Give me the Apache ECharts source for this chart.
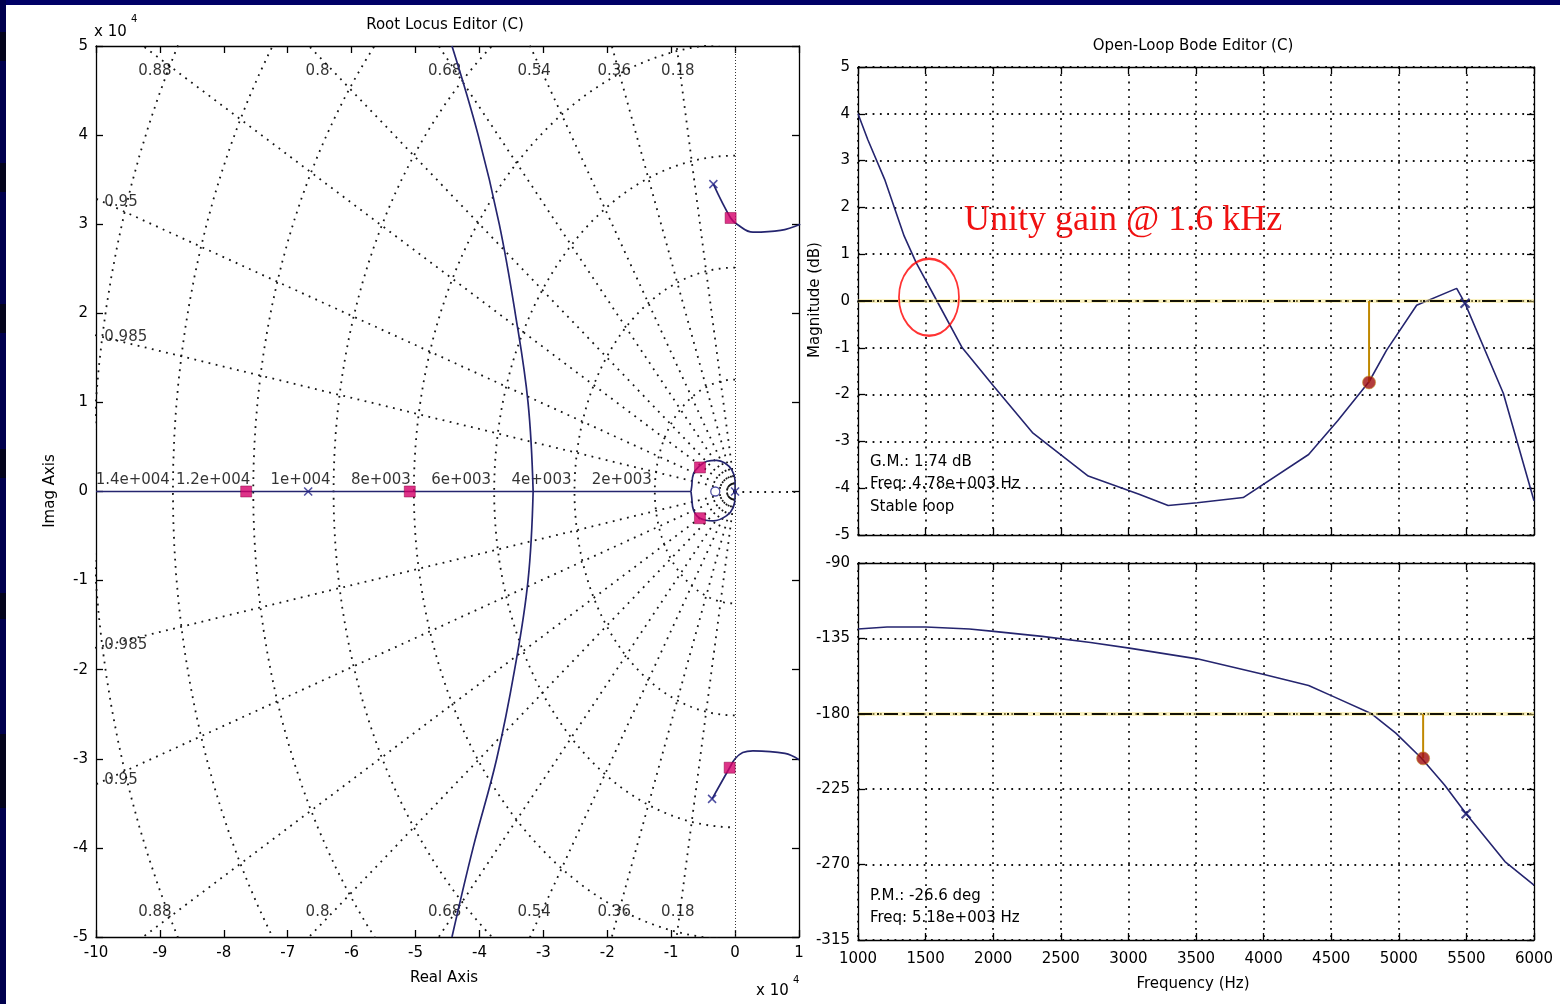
<!DOCTYPE html>
<html><head><meta charset="utf-8">
<script src="https://cdn.jsdelivr.net/npm/echarts@6/dist/echarts.min.js"></script>
<style>html,body{margin:0;padding:0;background:#fff}#c{width:1560px;height:1004px}</style>
</head><body><div id="c"></div><script>
// ---------- Root locus grid parameters (tick labels) ----------
const dampingValues = [0.18, 0.36, 0.54, 0.68, 0.8, 0.88, 0.95, 0.985];
const dampingLabels = ['0.18', '0.36', '0.54', '0.68', '0.8', '0.88', '0.95', '0.985'];
const freqHz = [2000, 4000, 6000, 8000, 10000, 12000, 14000, 16000];
const freqLabels = ['2e+003', '4e+003', '6e+003', '8e+003', '1e+004', '1.2e+004', '1.4e+004', ''];

// ---------- Root locus branches (x10^4) ----------
const locusRealAxis = [[-10, 0], [-0.69, 0]];
const locusMainUpper = [[-3.16, 0], [-3.24, 1], [-3.44, 2], [-3.69, 3], [-4.02, 4], [-4.43, 5]];
const locusMainLower = [[-3.16, 0], [-3.24, -1], [-3.45, -2], [-3.73, -3], [-4.1, -4], [-4.43, -5]];
const locusCplxUpper = [[-0.34, 3.45], [-0.07, 3.07], [0.03, 3.0], [0.28, 2.91], [0.71, 2.93], [1.02, 3.0]];
const locusCplxLower = [[-0.36, -3.45], [-0.085, -3.1], [0.0, -3.0], [0.12, -2.93], [0.28, -2.91], [0.78, -2.94], [1.0, -3.01]];
const locusLoopUpper = [[-0.69, 0], [-0.68, 0.05], [-0.65, 0.2], [-0.55, 0.29], [-0.44, 0.34], [-0.29, 0.35], [-0.16, 0.32], [-0.05, 0.24], [0, 0.12], [0, 0]];
const locusLoopLower = [[-0.69, 0], [-0.68, -0.06], [-0.65, -0.21], [-0.55, -0.3], [-0.34, -0.33], [-0.13, -0.27], [-0.03, -0.18], [0, -0.06], [0, 0]];
const closedLoopPoles = [[-7.65, 0], [-5.09, 0], [-0.55, 0.27], [-0.55, -0.3], [-0.07, 3.07], [-0.085, -3.1]];
const openLoopPoles = [[-6.68, 0], [-0.34, 3.45], [-0.36, -3.45], [0, 0]];
const openLoopZeros = [[-0.31, 0]];

// ---------- Bode data ----------
const magFreq = [1000, 1072, 1197, 1341, 1430, 1584, 1771, 2004, 2290, 2703, 3079, 3294, 3509, 3849, 4333, 4548, 4781, 4910, 5132, 5428, 5490, 5773, 6000];
const magDb =   [4.0, 3.45, 2.6, 1.39, 0.82, 0, -1.0, -1.82, -2.81, -3.74, -4.13, -4.37, -4.31, -4.2, -3.28, -2.56, -1.72, -1.05, -0.09, 0.27, -0.05, -1.97, -4.27];
const phFreq = [1000, 1215, 1502, 1824, 2004, 2362, 2720, 3007, 3509, 4011, 4333, 4513, 4799, 4978, 5168, 5337, 5498, 5785, 6000];
const phDeg =  [-129.4, -128.2, -128.2, -129.4, -130.8, -133.8, -137.4, -140.8, -147.2, -156.7, -163.1, -169.6, -180, -191.5, -206.5, -222.4, -239.7, -268.2, -282.2];
const gmPoint = [4780, -1.74];
const pmPoint = [5180, -206.6];
const magPoleMark = [5490, -0.05];
const phPoleMark = [5498, -239.7];
const unityGainMark = [1525, 0.08];

// ---------- styles ----------
const FONT = 'DejaVu Sans';
const NAVY = '#25256f';
const GRIDLINE = { color: '#151515', width: 1.8, type: [1.8, 5.5] };
const CROSS = 'path://M0,0L10,10M10,0L0,10';

function axis(gridIndex, pos, o) {
  const isX = pos === 'bottom' || pos === 'top';
  const main = pos === 'bottom' || pos === 'left';
  return Object.assign({
    gridIndex, type: 'value', position: pos,
    axisLine: { show: true, onZero: false, lineStyle: { color: '#000', width: 1.3 } },
    axisTick: { show: true, inside: true, length: 7, lineStyle: { color: '#000', width: 1.3 } },
    axisLabel: { show: main, color: '#000', fontFamily: FONT, fontSize: 15, margin: isX ? 9 : 8, showMinLabel: true, showMaxLabel: true, hideOverlap: false, formatter: (v) => String(v) },
    splitLine: { show: false }
  }, o);
}

const xAxis = [
  axis(0, 'bottom', { min: -10, max: 1, interval: 1 }),
  axis(0, 'top', { min: -10, max: 1, interval: 1 }),
  axis(1, 'bottom', { min: 1000, max: 6000, interval: 500, splitLine: { show: true, lineStyle: GRIDLINE } }),
  axis(1, 'top', { min: 1000, max: 6000, interval: 500 }),
  axis(2, 'bottom', { min: 1000, max: 6000, interval: 500, splitLine: { show: true, lineStyle: GRIDLINE } }),
  axis(2, 'top', { min: 1000, max: 6000, interval: 500 })
];
xAxis[2].axisLabel.show = false;
xAxis[4].axisLabel.margin = 12;

const yAxis = [
  axis(0, 'left', { min: -5, max: 5, interval: 1 }),
  axis(0, 'right', { min: -5, max: 5, interval: 1 }),
  axis(1, 'left', { min: -5, max: 5, interval: 1, splitLine: { show: true, lineStyle: GRIDLINE } }),
  axis(1, 'right', { min: -5, max: 5, interval: 1 }),
  axis(2, 'left', { min: -315, max: -90, interval: 45, splitLine: { show: true, lineStyle: GRIDLINE } }),
  axis(2, 'right', { min: -315, max: -90, interval: 45 })
];

const series = [];
// frequency circles (left half-plane), radius in rad/s x1e4
freqHz.forEach((f) => {
  const r = 2 * Math.PI * f / 1e4;
  const pts = [];
  for (let a = 90; a <= 270; a += 2) {
    const t = a * Math.PI / 180;
    pts.push([r * Math.cos(t), r * Math.sin(t)]);
  }
  series.push({ type: 'line', xAxisIndex: 0, yAxisIndex: 0, data: pts, showSymbol: false, silent: true, clip: true, z: 1, lineStyle: GRIDLINE });
});
// damping rays
dampingValues.forEach((z) => {
  const s = Math.sqrt(1 - z * z);
  [1, -1].forEach((sg) => {
    series.push({ type: 'line', xAxisIndex: 0, yAxisIndex: 0, data: [[0, 0], [-z * 30, sg * s * 30]], showSymbol: false, silent: true, clip: true, z: 1, lineStyle: GRIDLINE });
  });
});
// imaginary axis / real axis (right half) grid
series.push({
  type: 'line', xAxisIndex: 0, yAxisIndex: 0, data: [], silent: true,
  markLine: {
    silent: true, symbol: 'none', label: { show: false },
    data: [
      { xAxis: 0, lineStyle: { color: '#333', width: 1, type: [1, 2] } },
      [{ coord: [0, 0], lineStyle: GRIDLINE }, { coord: [1, 0] }]
    ]
  }
});
// frequency labels
const freqLabelData = [];
freqHz.forEach((f, i) => {
  const r = 2 * Math.PI * f / 1e4;
  if (r < 10 && freqLabels[i]) freqLabelData.push({ value: [-r, 0], name: freqLabels[i] });
});
series.push({
  type: 'scatter', xAxisIndex: 0, yAxisIndex: 0, symbolSize: 0, silent: true, z: 3, data: freqLabelData,
  label: { show: true, formatter: '{b}', position: 'left', distance: 3, offset: [0, -11], color: '#000', fontFamily: FONT, fontSize: 15 }
});
// damping labels
const dTop = [], dBot = [], dLeft = [];
dampingValues.forEach((z, i) => {
  const s = Math.sqrt(1 - z * z) / z;
  const xTop = -4.9 / s;
  if (xTop > -9.87) {
    dTop.push({ value: [xTop, 4.9], name: dampingLabels[i] });
    dBot.push({ value: [xTop, -4.9], name: dampingLabels[i] });
  } else {
    dLeft.push({ value: [-9.87, 9.87 * s], name: dampingLabels[i] });
    dLeft.push({ value: [-9.87, -9.87 * s], name: dampingLabels[i] });
  }
});
const dLab = { show: true, formatter: '{b}', color: '#000', fontFamily: FONT, fontSize: 15 };
series.push({ type: 'scatter', xAxisIndex: 0, yAxisIndex: 0, symbolSize: 0, silent: true, z: 3, data: dTop, label: Object.assign({ position: 'inside', offset: [0, 16] }, dLab) });
series.push({ type: 'scatter', xAxisIndex: 0, yAxisIndex: 0, symbolSize: 0, silent: true, z: 3, data: dBot, label: Object.assign({ position: 'inside', offset: [0, -16] }, dLab) });
series.push({ type: 'scatter', xAxisIndex: 0, yAxisIndex: 0, symbolSize: 0, silent: true, z: 3, data: dLeft, label: Object.assign({ position: 'right', distance: 0 }, dLab) });

// locus branches
const locusLine = (d, smooth) => ({ type: 'line', xAxisIndex: 0, yAxisIndex: 0, data: d, showSymbol: false, smooth: smooth ? 0.4 : false, clip: true, z: 4, lineStyle: { color: NAVY, width: 1.7 } });
series.push(locusLine(locusRealAxis, false));
series.push(locusLine(locusMainUpper, true));
series.push(locusLine(locusMainLower, true));
series.push(locusLine(locusCplxUpper, true));
series.push(locusLine(locusCplxLower, true));
series.push(locusLine(locusLoopUpper, true));
series.push(locusLine(locusLoopLower, true));
// markers
series.push({ type: 'scatter', xAxisIndex: 0, yAxisIndex: 0, data: closedLoopPoles, symbol: 'rect', symbolSize: 11, z: 6, itemStyle: { color: '#d6006a', borderColor: '#8a0040', borderWidth: 0.6 } });
series.push({ type: 'scatter', xAxisIndex: 0, yAxisIndex: 0, data: openLoopPoles, symbol: CROSS, symbolSize: 8, z: 6, itemStyle: { color: 'rgba(0,0,0,0)', borderColor: '#23238a', borderWidth: 1.5 } });
series.push({ type: 'scatter', xAxisIndex: 0, yAxisIndex: 0, data: openLoopZeros, symbol: 'circle', symbolSize: 9, z: 6, itemStyle: { color: 'rgba(0,0,0,0)', borderColor: '#23238a', borderWidth: 1.3 } });

// ---------- Bode magnitude ----------
const refLines = (v) => ({
  silent: true, symbol: 'none', label: { show: false }, animation: false,
  data: [
    { yAxis: v, lineStyle: { color: 'rgba(246,226,120,0.45)', width: 4, type: 'solid' } },
    { yAxis: v, lineStyle: { color: '#141205', width: 1.8, type: [14, 5, 2, 5] } }
  ]
});
series.push({ type: 'line', xAxisIndex: 2, yAxisIndex: 2, data: magFreq.map((f, i) => [f, magDb[i]]), showSymbol: false, z: 4, lineStyle: { color: NAVY, width: 1.6 }, markLine: refLines(0) });
series.push({ type: 'line', xAxisIndex: 2, yAxisIndex: 2, data: [[gmPoint[0], 0], gmPoint], showSymbol: false, z: 5, lineStyle: { color: '#c08800', width: 2 } });
series.push({ type: 'scatter', xAxisIndex: 2, yAxisIndex: 2, data: [gmPoint], symbolSize: 13, z: 6, itemStyle: { color: '#a00c0c', borderColor: '#c89a30', borderWidth: 0.8 } });
series.push({ type: 'scatter', xAxisIndex: 2, yAxisIndex: 2, data: [magPoleMark], symbol: CROSS, symbolSize: 9, z: 6, itemStyle: { color: 'rgba(0,0,0,0)', borderColor: '#1a1a70', borderWidth: 2.2 } });
series.push({ type: 'scatter', xAxisIndex: 2, yAxisIndex: 2, data: [unityGainMark], symbol: 'circle', symbolSize: [60, 77], z: 7, itemStyle: { color: 'rgba(0,0,0,0)', borderColor: '#ff0000', borderWidth: 2 } });

// ---------- Bode phase ----------
series.push({ type: 'line', xAxisIndex: 4, yAxisIndex: 4, data: phFreq.map((f, i) => [f, phDeg[i]]), showSymbol: false, z: 4, lineStyle: { color: NAVY, width: 1.6 }, markLine: refLines(-180) });
series.push({ type: 'line', xAxisIndex: 4, yAxisIndex: 4, data: [[pmPoint[0], -180], pmPoint], showSymbol: false, z: 5, lineStyle: { color: '#c08800', width: 2 } });
series.push({ type: 'scatter', xAxisIndex: 4, yAxisIndex: 4, data: [pmPoint], symbolSize: 13, z: 6, itemStyle: { color: '#a00c0c', borderColor: '#c89a30', borderWidth: 0.8 } });
series.push({ type: 'scatter', xAxisIndex: 4, yAxisIndex: 4, data: [phPoleMark], symbol: CROSS, symbolSize: 9, z: 6, itemStyle: { color: 'rgba(0,0,0,0)', borderColor: '#1a1a70', borderWidth: 2.2 } });

// ---------- texts ----------
const txt = (x, y, text, o) => Object.assign({
  type: 'text', x, y, silent: true, z: 100,
  style: Object.assign({ text, font: '15px "DejaVu Sans"', fill: '#000', textAlign: 'left', textVerticalAlign: 'middle', align: 'left', verticalAlign: 'middle' }, (o && o.style) || {})
}, o ? { rotation: o.rotation || 0 } : {});
const C = { style: { textAlign: 'center', align: 'center' } };

const frame = [
  { type: 'rect', shape: { x: 0, y: 0, width: 1560, height: 5 }, style: { fill: '#000066' }, silent: true, z: 200 },
  { type: 'rect', shape: { x: 0, y: 0, width: 6, height: 1004 }, style: { fill: '#00004e' }, silent: true, z: 200 }
];
[[32, 29], [163, 29], [304, 29], [449, 29], [593, 26], [734, 74]].forEach(([y, h]) => {
  frame.push({ type: 'rect', shape: { x: 0, y, width: 6, height: h }, style: { fill: '#03031c' }, silent: true, z: 201 });
});

const graphic = frame.concat([
  txt(445, 25, 'Root Locus Editor (C)', C),
  txt(1193, 46, 'Open-Loop Bode Editor (C)', C),
  txt(94, 32, 'x 10', { style: { font: '15px "DejaVu Sans"' } }),
  txt(131, 19, '4', { style: { font: '10px "DejaVu Sans"' } }),
  txt(756, 991, 'x 10', { style: { font: '15px "DejaVu Sans"' } }),
  txt(793, 980, '4', { style: { font: '10px "DejaVu Sans"' } }),
  txt(50, 491, 'Imag Axis', { rotation: Math.PI / 2, style: { textAlign: 'center', align: 'center' } }),
  txt(444, 978, 'Real Axis', C),
  txt(815, 300, 'Magnitude (dB)', { rotation: Math.PI / 2, style: { textAlign: 'center', align: 'center' } }),
  txt(1193, 984, 'Frequency (Hz)', C),
  txt(870, 462, 'G.M.: 1.74 dB'),
  txt(870, 484, 'Freq: 4.78e+003 Hz'),
  txt(870, 507, 'Stable loop'),
  txt(870, 896, 'P.M.: -26.6 deg'),
  txt(870, 918, 'Freq: 5.18e+003 Hz'),
  txt(964, 221, 'Unity gain @ 1.6 kHz', { style: { font: '36px "Liberation Serif"', fill: '#f01010' } })
]);

const option = {
  animation: false,
  backgroundColor: '#ffffff',
  grid: [
    { left: 96, top: 46, width: 703, height: 891 },
    { left: 858, top: 67, width: 676, height: 468 },
    { left: 858, top: 563, width: 676, height: 377 }
  ],
  xAxis, yAxis, series, graphic
};
const chart = echarts.init(document.getElementById('c'));
chart.setOption(option);
</script></body></html>
